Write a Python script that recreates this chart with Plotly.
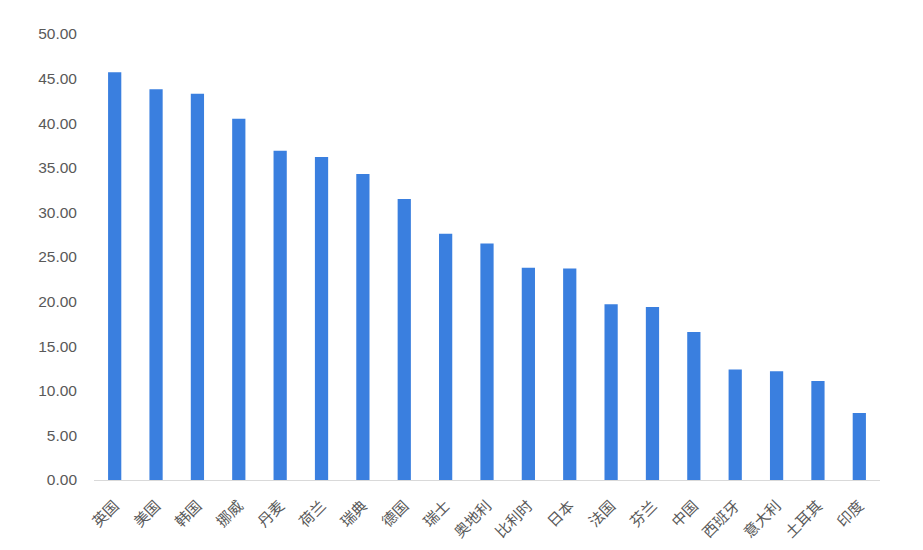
import plotly.graph_objects as go

countries = ["英国", "美国", "韩国", "挪威", "丹麦", "荷兰", "瑞典", "德国", "瑞士", "奥地利",
             "比利时", "日本", "法国", "芬兰", "中国", "西班牙", "意大利", "土耳其", "印度"]
values = [45.7, 43.8, 43.3, 40.5, 36.9, 36.2, 34.3, 31.5, 27.6, 26.5,
          23.8, 23.7, 19.7, 19.4, 16.6, 12.4, 12.2, 11.1, 7.5]
y_ticks = [0, 5, 10, 15, 20, 25, 30, 35, 40, 45, 50]

fig = go.Figure(go.Bar(
    x=countries, y=values,
    marker=dict(color="#3a7fdf", line=dict(width=0)),
    width=0.32,
))

# page body has a default 8px margin, so the figure is offset by 8px
fig.update_layout(
    width=915, height=542,
    margin=dict(l=86, r=43, t=26, b=70),
    paper_bgcolor="white", plot_bgcolor="white",
    showlegend=False,
    font=dict(family="Noto Sans CJK SC", color="#595959"),
)
fig.update_xaxes(
    automargin=False,
    tickangle=-45,
    tickfont=dict(family="Noto Sans CJK SC", size=15, color="#595959"),
    showline=True, linecolor="#d9d9d9", linewidth=1,
    showgrid=False, ticks="",
    ticklabelstandoff=10,
)
fig.update_yaxes(
    automargin=False,
    range=[0, 50], tickvals=y_ticks, tickformat=".2f",
    tickfont=dict(family="Liberation Sans", size=15.5, color="#595959"),
    showgrid=False, zeroline=False, showline=False, ticks="",
    ticklabelstandoff=16,
)

fig.write_html("out.html")
